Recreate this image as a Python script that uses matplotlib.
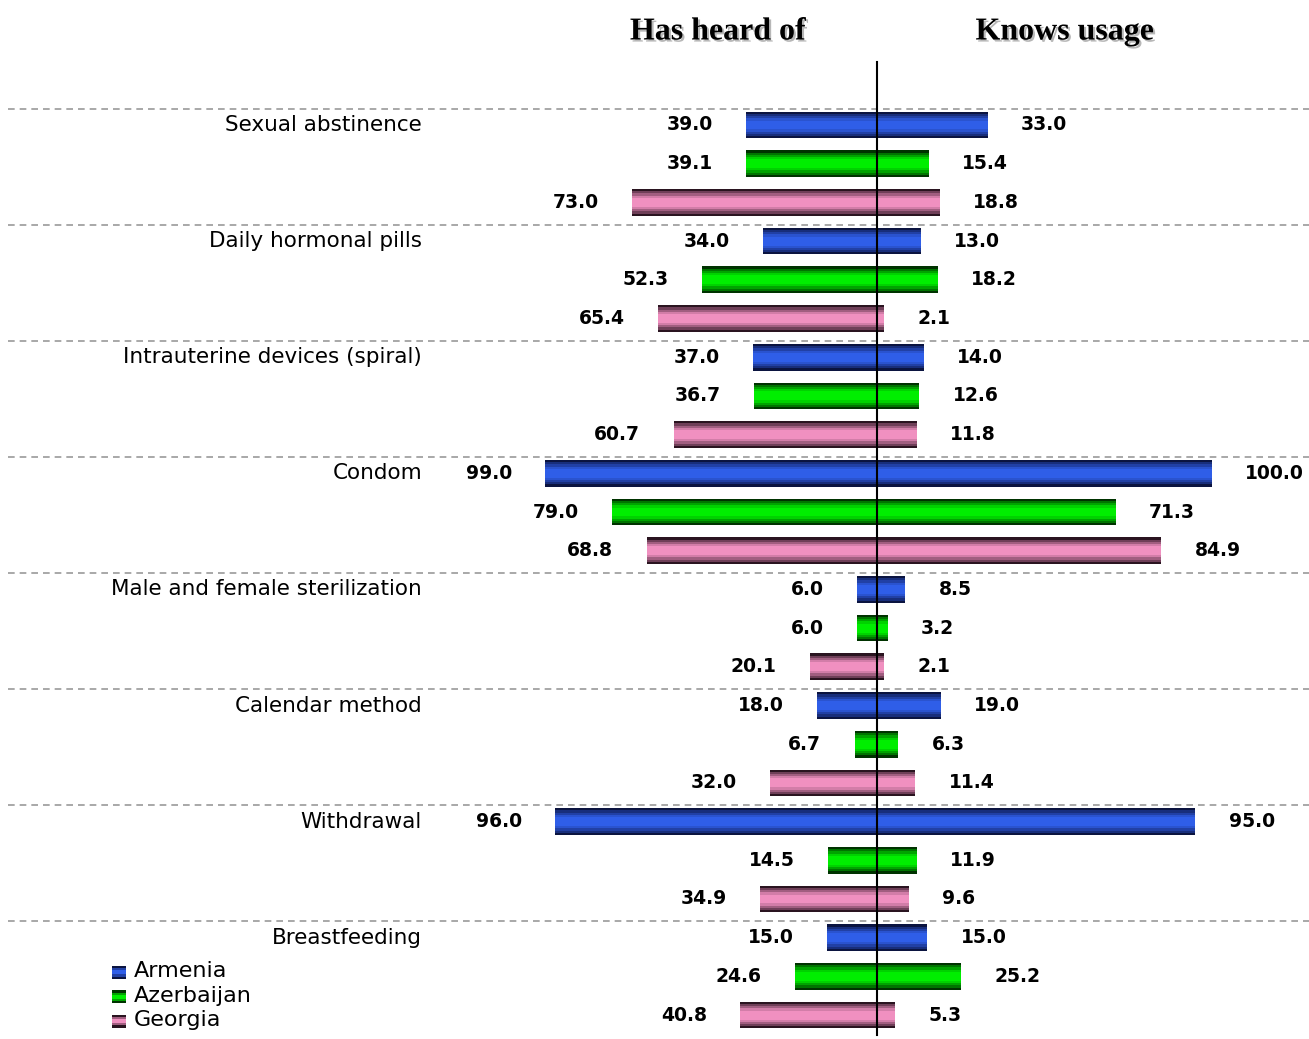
import numpy as np
import matplotlib
matplotlib.use("Agg")
import matplotlib.pyplot as plt
import matplotlib.patheffects as pe
from matplotlib.patches import Rectangle, Patch

methods = ["Sexual abstinence", "Daily hormonal pills", "Intrauterine devices (spiral)",
           "Condom", "Male and female sterilization", "Calendar method",
           "Withdrawal", "Breastfeeding"]
countries = ["Armenia", "Azerbaijan", "Georgia"]

heard_armenia = [39.0, 34.0, 37.0, 99.0, 6.0, 18.0, 96.0, 15.0]
heard_azerbaijan = [39.1, 52.3, 36.7, 79.0, 6.0, 6.7, 14.5, 24.6]
heard_georgia = [73.0, 65.4, 60.7, 68.8, 20.1, 32.0, 34.9, 40.8]

usage_armenia = [33.0, 13.0, 14.0, 100.0, 8.5, 19.0, 95.0, 15.0]
usage_azerbaijan = [15.4, 18.2, 12.6, 71.3, 3.2, 6.3, 11.9, 25.2]
usage_georgia = [18.8, 2.1, 11.8, 84.9, 2.1, 11.4, 9.6, 5.3]

heard = [heard_armenia, heard_azerbaijan, heard_georgia]
usage = [usage_armenia, usage_azerbaijan, usage_georgia]

# (dark edge, bright middle) for the tube look
colors = {
    "Armenia": ("#0b1440", "#2f5ee8"),
    "Azerbaijan": ("#003300", "#00ee00"),
    "Georgia": ("#2a1420", "#f090c0"),
}

plt.rcParams["font.family"] = ["DejaVu Sans"]

fig = plt.figure(figsize=(13.09, 10.39), dpi=100)
ax = fig.add_axes([0, 0, 1, 1])

px = 3.35          # pixels per unit
slot = 38.7        # pixels per bar slot
x0 = 877
y0 = 125
ax.set_xlim(-x0 / px, (1309 - x0) / px)
ax.set_ylim((1039 - y0) / slot, -y0 / slot)
ax.axis("off")

bar_h = 0.69
# mix toward bright colour, strip by strip from top to bottom
prof = np.array([0.0, 0.35, 0.6, 0.85, 1.0, 1.0, 1.0, 1.0, 0.85, 0.6, 0.35, 0.0])
n = len(prof)
sh = bar_h / n


def mix(c1, c2, t):
    a = np.array(matplotlib.colors.to_rgb(c1))
    b = np.array(matplotlib.colors.to_rgb(c2))
    return tuple(a + (b - a) * t)


for g in range(len(methods)):
    for k, c in enumerate(countries):
        y = 3 * g + k
        dark, bright = colors[c]
        for j, t in enumerate(prof):
            yy = y - bar_h / 2 + sh * (j + 0.5)
            col = mix(dark, bright, t)
            ax.barh(yy, -heard[k][g], height=sh, left=0, color=col, linewidth=0)
            ax.barh(yy, usage[k][g], height=sh, left=0, color=col, linewidth=0)
        ax.annotate(f"{heard[k][g]:.1f}", xy=(-heard[k][g], y), xytext=(-24, 0),
                    textcoords="offset points", ha="right", va="center",
                    fontsize=13.5, fontweight="bold")
        ax.annotate(f"{usage[k][g]:.1f}", xy=(usage[k][g], y), xytext=(24, 0),
                    textcoords="offset points", ha="left", va="center",
                    fontsize=13.5, fontweight="bold")
    ax.text((422 - x0) / px, 3 * g, methods[g], ha="right", va="center", fontsize=15.5)
    ax.plot([(8 - x0) / px, (1309 - x0) / px], [3 * g - 0.42, 3 * g - 0.42],
            color="#999999", linestyle=(0, (4, 3)), linewidth=1.2)

ax.plot([0, 0], [(62 - y0) / slot, (1035 - y0) / slot], color="black", linewidth=1.5)

shadow = [pe.SimplePatchShadow(offset=(1.5, -1.5), shadow_rgbFace="#888888", alpha=0.6),
          pe.Normal()]
fig.text(718 / 1309, 1 - 32 / 1039, "Has heard of", ha="center", va="center",
         family="Liberation Serif", fontweight="bold", fontsize=23, path_effects=shadow)
fig.text(1065 / 1309, 1 - 32 / 1039, "Knows usage", ha="center", va="center",
         family="Liberation Serif", fontweight="bold", fontsize=23, path_effects=shadow)


class StripeHandler:
    def legend_artist(self, legend, orig_handle, fontsize, handlebox):
        dark = orig_handle.get_edgecolor()
        bright = orig_handle.get_facecolor()
        w, h = handlebox.width, handlebox.height
        x, y = handlebox.xdescent, handlebox.ydescent
        strips = [0.0, 0.6, 1.0, 1.0, 0.6, 0.0]
        dh = h / len(strips)
        first = None
        for j, t in enumerate(strips):
            r = Rectangle((x, y + h - dh * (j + 1)), w, dh, facecolor=mix(dark, bright, t),
                          linewidth=0, transform=handlebox.get_transform())
            handlebox.add_artist(r)
            first = first or r
        return first


handles = [Patch(facecolor=colors[c][1], edgecolor=colors[c][0]) for c in countries]
fig.legend(handles, countries, loc="lower left", bbox_to_anchor=(112 / 1309, 1 - 1030 / 1039),
           frameon=False, fontsize=16, handlelength=0.62, handleheight=0.5,
           handletextpad=0.35, labelspacing=0.2, borderaxespad=0, borderpad=0,
           handler_map={Patch: StripeHandler()})

fig.savefig("out.png", dpi=100)
